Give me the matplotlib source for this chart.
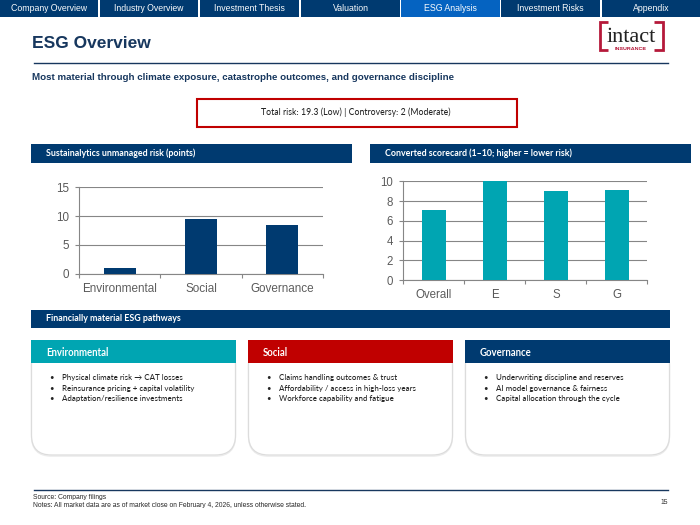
import matplotlib
matplotlib.use('Agg')
import matplotlib.pyplot as plt
from matplotlib.patches import Rectangle, FancyBboxPatch

plt.rcParams['text.hinting'] = 'no_autohint'

NAVY = '#003a70'
TEAL = '#00a5b2'
RED = '#c00000'
BLUE = '#0563c1'
TITLE_COL = '#17375e'
GREY = '#595959'
ARIAL = 'Liberation Sans'
CALIBRI = 'Lato'

# data
nav_labels = ['Company Overview', 'Industry Overview', 'Investment Thesis', 'Valuation',
              'ESG Analysis', 'Investment Risks', 'Appendix']
risk_labels = ['Environmental', 'Social', 'Governance']
risk_values = [1.0, 9.5, 8.5]
score_labels = ['Overall', 'E', 'S', 'G']
score_values = [7.1, 10, 9, 9.1]
card_titles = ['Environmental', 'Social', 'Governance']
card_bullets = [
    ['Physical climate risk → CAT losses', 'Reinsurance pricing + capital volatility',
     'Adaptation/resilience investments'],
    ['Claims handling outcomes & trust', 'Affordability / access in high-loss years',
     'Workforce capability and fatigue'],
    ['Underwriting discipline and reserves', 'AI model governance & fairness',
     'Capital allocation through the cycle'],
]

fig = plt.figure(figsize=(7, 5.25), dpi=100, facecolor='white')

# overlay in pixel coordinates for the slide furniture
bg = fig.add_axes([0, 0, 1, 1])
bg.set_xlim(0, 700)
bg.set_ylim(525, 0)
bg.axis('off')


def box(x0, y0, x1, y1, color):
    bg.add_patch(Rectangle((x0, y0), x1 - x0, y1 - y0, facecolor=color, edgecolor='none'))


def label(x, y, s, size, color='black', font=ARIAL, weight='normal', ha='left'):
    bg.text(x, y, s, fontsize=size, color=color, family=[font, 'DejaVu Sans'], weight=weight,
            ha=ha, va='center')


# top navigation
nav_x = [(0, 98), (100, 198), (200, 299), (301, 400), (401, 500), (501, 600), (602, 700)]
for (x0, x1), name in zip(nav_x, nav_labels):
    box(x0, 0, x1, 17, BLUE if name == 'ESG Analysis' else NAVY)
    label((x0 + x1) / 2, 8.6, name, 6.3, 'white', ha='center')

# title block
label(32, 44, 'ESG Overview', 12.5, TITLE_COL, weight='bold')
bg.plot([34, 668], [63, 63], color=TITLE_COL, lw=1)
label(32, 77.5, 'Most material through climate exposure, catastrophe outcomes, and governance discipline',
      7.0, TITLE_COL, weight='bold')

# logo
bx = dict(color='#b5193a', lw=2, solid_joinstyle='miter', solid_capstyle='butt')
bg.plot([608, 600, 600, 608], [22, 22, 50, 50], **bx)
bg.plot([654, 663, 663, 654], [22, 22, 50, 50], **bx)
label(631, 37, 'intact', 16, '#222222', font='Liberation Serif', ha='center')
label(631, 49, 'INSURANCE', 3.9, '#b5193a', weight='bold', ha='center')

# callout
bg.add_patch(Rectangle((196.5, 98.5), 320, 28, facecolor='white', edgecolor=RED, lw=1.5))
label(356, 112.5, 'Total risk: 19.3 (Low) | Controversy: 2 (Moderate)', 6.35, '#262626', font=CALIBRI, ha='center')

# section headers
for x0, x1, y0, y1, tx, text in [(31, 352, 144, 163, 46, 'Sustainalytics unmanaged risk (points)'),
                                 (370, 691, 144, 163, 385, 'Converted scorecard (1–10; higher = lower risk)'),
                                 (31, 670, 310, 328, 46, 'Financially material ESG pathways')]:
    box(x0, y0, x1, y1, NAVY)
    label(tx, (y0 + y1) / 2 - 0.5, text, 6.4, 'white', font=CALIBRI, weight='bold')

# cards
card_x = [(31, 236), (248, 453), (465, 670)]
card_cols = [TEAL, RED, NAVY]
for (x0, x1), col, title, bullets in zip(card_x, card_cols, card_titles, card_bullets):
    for off, ec in [(1.2, '#ececec'), (0, '#dcdcdc')]:
        bg.add_patch(FancyBboxPatch((x0 + 0.5 + 20, 345 + 20 + off), x1 - x0 - 41, 110 - 40,
                                    boxstyle='round,pad=20,rounding_size=20',
                                    facecolor='white', edgecolor=ec, lw=0.9))
    box(x0, 340, x1, 363, col)
    label(x0 + 15, 352, title, 6.9, 'white', font=CALIBRI, weight='bold')
    for i, b in enumerate(bullets):
        y = 377.5 + i * 10.5
        label(x0 + 18.5, y, '•', 5.6, '#262626', font=CALIBRI)
        label(x0 + 31, y, b, 5.75, '#262626', font=CALIBRI)

# footer
bg.plot([34, 668], [490, 490], color=TITLE_COL, lw=1)
label(33, 496.5, 'Source: Company filings', 4.9, '#262626')
label(33, 505.5, 'Notes: All market data are as of market close on February 4, 2026, unless otherwise stated.',
      4.9, '#262626')
label(668, 502, '15', 4.9, '#262626', ha='right')


def bar_chart(rect, labels, values, color, ymax, step, size):
    x0, y0, x1, y1 = rect
    ax = fig.add_axes([x0 / 700, 1 - y1 / 525, (x1 - x0) / 700, (y1 - y0) / 525])
    ax.patch.set_alpha(0)
    xs = list(range(len(labels)))
    ax.bar(xs, values, width=0.4, color=color, zorder=3)
    ax.set_xlim(-0.5, len(labels) - 0.5)
    ax.set_ylim(0, ymax)
    ax.set_yticks(list(range(0, ymax + 1, step)))
    ax.set_xticks([i - 0.5 for i in range(len(labels) + 1)])
    ax.set_xticklabels([])
    ax.set_xticks(xs, minor=True)
    ax.set_xticklabels(labels, minor=True)
    ax.grid(axis='y', color='#868686', lw=0.8, zorder=1)
    ax.set_axisbelow(True)
    for side in ['top', 'right']:
        ax.spines[side].set_visible(False)
    for side in ['left', 'bottom']:
        ax.spines[side].set_color('#868686')
        ax.spines[side].set_linewidth(0.8)
    ax.tick_params(axis='both', which='major', color='#868686', width=0.8, length=3, labelsize=size,
                   labelcolor=GREY, pad=4.5)
    ax.tick_params(axis='x', which='minor', length=0, labelsize=size, labelcolor=GREY, pad=6.5)
    for t in ax.get_xticklabels(which='both') + ax.get_yticklabels():
        t.set_family(ARIAL)
    return ax


bar_chart((79.3, 187.3, 322.7, 273.7), risk_labels, risk_values, NAVY, 15, 5, 8.4)
bar_chart((403.3, 181.3, 647.3, 280.3), score_labels, score_values, TEAL, 10, 2, 8.3)

fig.savefig('out.png', dpi=100)
